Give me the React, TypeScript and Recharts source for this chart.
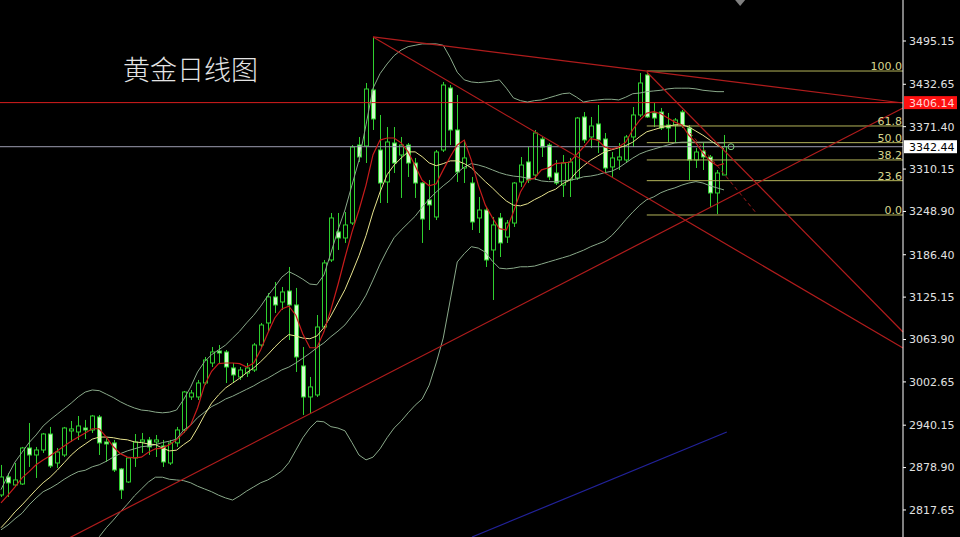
import React from 'react';
import { ComposedChart, Bar, Line, XAxis, YAxis, ReferenceLine, ReferenceDot } from 'recharts';

// daily gold candles
const opens = [
  2839.3, 2865.3, 2853.8, 2855.2, 2907.2, 2897.1, 2904.3, 2927.4, 2885.5, 2897.1,
  2931.8, 2930.3, 2936.1, 2933.2, 2952.0, 2915.9, 2914.5, 2876.9, 2858.1, 2892.8,
  2915.9, 2918.8, 2915.9, 2910.1, 2885.5, 2914.5, 2933.2, 2980.9, 2980.9, 3001.1,
  3030.0, 3047.3, 3045.9, 3022.8, 3009.8, 3015.6, 3019.9, 3056.0, 3087.8, 3125.4,
  3118.1, 3134.0, 3113.8, 3025.7, 2980.9, 2983.8, 3082.0, 3178.8, 3219.3, 3210.6,
  3232.2, 3344.9, 3343.5, 3424.4, 3337.7, 3291.5, 3347.8, 3330.5, 3344.9, 3318.9,
  3290.0, 3265.5, 3240.9, 3337.7, 3427.3, 3366.6, 3311.7, 3290.0, 3239.5, 3251.0,
  3193.3, 3239.5, 3212.0, 3232.2, 3291.5, 3320.4, 3301.6, 3353.6, 3344.9, 3304.5,
  3287.1, 3294.4, 3297.3, 3385.4, 3356.5, 3375.3, 3353.6, 3313.2, 3323.3, 3323.3,
  3356.5, 3388.3, 3446.1, 3391.2, 3392.6, 3373.8, 3373.8, 3392.6, 3369.5, 3323.3,
  3336.3, 3327.6, 3275.6, 3301.6,
];
const highs = [
  2882.7, 2871.1, 2885.5, 2908.7, 2943.3, 2908.7, 2928.9, 2937.6, 2907.2, 2937.6,
  2946.2, 2953.4, 2947.7, 2954.9, 2954.9, 2923.1, 2918.8, 2878.3, 2894.2, 2927.4,
  2928.9, 2923.1, 2926.0, 2918.8, 2918.8, 2937.6, 2989.6, 2991.0, 3005.5, 3038.7,
  3053.1, 3056.0, 3048.8, 3030.0, 3024.2, 3030.0, 3058.9, 3087.8, 3131.1, 3147.0,
  3139.8, 3168.7, 3138.4, 3053.1, 3009.8, 3099.3, 3178.8, 3246.7, 3246.7, 3248.1,
  3344.9, 3356.5, 3434.5, 3501.0, 3388.3, 3370.9, 3370.9, 3356.5, 3347.8, 3326.2,
  3291.5, 3294.4, 3337.7, 3436.0, 3431.6, 3417.2, 3352.2, 3298.7, 3269.8, 3255.4,
  3240.9, 3246.7, 3236.5, 3291.5, 3327.6, 3342.0, 3366.6, 3356.5, 3347.8, 3323.3,
  3330.5, 3326.2, 3385.4, 3392.6, 3385.4, 3402.7, 3362.3, 3334.8, 3347.8, 3359.4,
  3399.8, 3449.0, 3450.4, 3405.6, 3398.4, 3391.2, 3383.9, 3395.5, 3373.8, 3340.6,
  3347.8, 3330.5, 3308.8, 3359.4,
];
const lows = [
  2836.4, 2836.4, 2850.9, 2853.8, 2879.8, 2863.9, 2900.0, 2878.3, 2878.3, 2894.2,
  2915.9, 2918.8, 2920.2, 2928.9, 2897.1, 2887.0, 2872.5, 2833.5, 2856.7, 2879.8,
  2900.0, 2897.1, 2894.2, 2879.8, 2882.7, 2908.7, 2928.9, 2976.6, 2976.6, 2998.2,
  3024.2, 3030.0, 3001.1, 3001.1, 3005.5, 3009.8, 3017.0, 3053.1, 3074.8, 3102.2,
  3106.6, 3063.2, 3017.0, 2954.9, 2957.8, 2980.9, 3077.7, 3175.9, 3193.3, 3203.4,
  3229.4, 3320.4, 3318.9, 3366.6, 3261.1, 3261.1, 3304.5, 3268.4, 3298.7, 3268.4,
  3203.4, 3222.1, 3236.5, 3334.8, 3344.9, 3291.5, 3290.0, 3222.1, 3217.8, 3168.7,
  3121.0, 3183.1, 3203.4, 3226.5, 3284.3, 3290.0, 3294.4, 3327.6, 3294.4, 3287.1,
  3269.8, 3269.8, 3294.4, 3347.8, 3340.6, 3333.4, 3304.5, 3297.3, 3308.8, 3318.9,
  3342.0, 3385.4, 3383.9, 3370.9, 3366.6, 3349.3, 3347.8, 3369.5, 3294.4, 3311.7,
  3308.8, 3255.4, 3245.2, 3301.6,
];
const closes = [
  2865.3, 2856.7, 2861.0, 2907.2, 2897.1, 2904.3, 2927.4, 2881.2, 2901.4, 2936.1,
  2934.7, 2939.0, 2933.2, 2953.4, 2914.5, 2913.0, 2875.4, 2846.5, 2892.8, 2915.9,
  2918.8, 2908.7, 2918.8, 2887.0, 2914.5, 2933.2, 2988.1, 2986.7, 3001.1, 3034.3,
  3045.9, 3044.4, 3024.2, 3012.7, 3019.9, 3022.8, 3056.0, 3084.9, 3125.4, 3113.8,
  3132.6, 3113.8, 3038.7, 2980.9, 2995.4, 3082.0, 3174.5, 3239.5, 3210.6, 3229.4,
  3342.0, 3327.6, 3425.8, 3382.5, 3290.0, 3349.3, 3318.9, 3344.9, 3318.9, 3290.0,
  3238.0, 3258.3, 3334.8, 3431.6, 3366.6, 3305.9, 3326.2, 3233.7, 3251.0, 3178.8,
  3229.4, 3203.4, 3232.2, 3290.0, 3316.0, 3294.4, 3362.3, 3342.0, 3298.7, 3290.0,
  3318.9, 3320.4, 3383.9, 3352.2, 3372.4, 3352.2, 3311.7, 3326.2, 3327.6, 3356.5,
  3388.3, 3434.5, 3385.4, 3383.9, 3369.5, 3369.5, 3381.0, 3373.8, 3323.3, 3334.8,
  3327.6, 3275.6, 3304.5, 3342.4,
];

// moving averages and bollinger bands
const maRed = [
  2828, 2839, 2851, 2864, 2873, 2883, 2890, 2896, 2903, 2910,
  2917, 2923, 2929, 2935, 2935, 2923, 2909, 2899, 2894, 2893,
  2894, 2901, 2906, 2907, 2912, 2919, 2929, 2940, 2965, 2998,
  3018, 3029, 3030, 3030, 3029, 3024, 3030, 3049, 3073, 3095,
  3108, 3112, 3099, 3072, 3052, 3052, 3075, 3107, 3143, 3182,
  3219, 3251, 3287, 3331, 3352, 3355, 3355, 3348, 3335, 3315,
  3294, 3286, 3289, 3309, 3328, 3345, 3352, 3323, 3287, 3258,
  3240, 3224, 3222, 3248, 3277, 3294, 3297, 3309, 3312, 3318,
  3319, 3320, 3331, 3342, 3354, 3352, 3342, 3339, 3342, 3349,
  3367, 3381, 3391, 3393, 3390, 3384, 3378, 3374, 3359, 3348,
  3333, 3322, 3315, 3318,
];
const maYellow = [
  2792, 2803, 2815, 2825, 2836, 2847, 2857, 2865, 2875, 2886,
  2897, 2906, 2913, 2920, 2923, 2923, 2922, 2920, 2919, 2916,
  2915, 2913, 2912, 2907, 2903, 2904, 2912, 2919, 2936, 2955,
  2972, 2984, 2994, 3001, 3008, 3016, 3023, 3032, 3042, 3053,
  3063, 3071, 3069, 3066, 3065, 3069, 3081, 3098, 3117, 3136,
  3160, 3185, 3214, 3248, 3277, 3302, 3316, 3326, 3335, 3335,
  3328, 3319, 3315, 3318, 3322, 3322, 3318, 3312, 3302, 3292,
  3283, 3273, 3264, 3258, 3257, 3260, 3266, 3271, 3277, 3281,
  3289, 3294, 3306, 3315, 3323, 3329, 3335, 3338, 3341, 3344,
  3349, 3357, 3364, 3367, 3370, 3372, 3374, 3374, 3371, 3365,
  3359, 3352, 3345, 3339,
];
const bbUpper = [
  2847, 2868, 2887, 2901, 2915, 2926, 2939, 2948, 2956, 2964,
  2972, 2981, 2988, 2991, 2990, 2985, 2980, 2974, 2969, 2965,
  2962, 2961, 2959, 2958, 2959, 2962, 2977, 2995, 3017, 3032,
  3042, 3049, 3056, 3066, 3076, 3088, 3099, 3112, 3127, 3140,
  3154, 3162, 3157, 3151, 3144, 3143, 3157, 3189, 3222, 3251,
  3287, 3323, 3374, 3427, 3448, 3462, 3474, 3482, 3487, 3489,
  3491, 3491, 3491, 3489, 3471, 3450, 3439, 3436, 3435, 3436,
  3437, 3439, 3427, 3413, 3409, 3407, 3409, 3410, 3413, 3416,
  3419, 3420, 3414, 3407, 3409, 3410, 3411, 3411, 3410, 3414,
  3419, 3420, 3422, 3423, 3424, 3426, 3427, 3427, 3427, 3426,
  3424, 3423, 3422, 3422,
];
const bbMid = [
  2789, 2796, 2805, 2813, 2825, 2835, 2844, 2849, 2855, 2862,
  2868, 2873, 2875, 2880, 2883, 2888, 2894, 2899, 2903, 2906,
  2909, 2910, 2912, 2915, 2917, 2920, 2933, 2940, 2951, 2959,
  2967, 2972, 2978, 2982, 2987, 2992, 2997, 3003, 3008, 3014,
  3020, 3024, 3030, 3037, 3044, 3052, 3059, 3068, 3076, 3085,
  3098, 3111, 3128, 3150, 3173, 3193, 3211, 3222, 3232, 3242,
  3255, 3267, 3277, 3286, 3294, 3305, 3313, 3318, 3316, 3313,
  3309, 3305, 3302, 3300, 3299, 3297, 3296, 3293, 3292, 3292,
  3293, 3294, 3296, 3299, 3300, 3302, 3305, 3307, 3312, 3319,
  3326, 3332, 3336, 3339, 3342, 3345, 3348, 3349, 3349, 3349,
  3349, 3349, 3348, 3348,
];
const bbLower = [
  null, null, null, null, null, null, null, null, null, null,
  2731, 2745, 2757, 2767, 2779, 2792, 2803, 2815, 2826, 2838,
  2848, 2858, 2865, 2865, 2862, 2861, 2860, 2857, 2852, 2848,
  2844, 2839, 2835, 2832, 2838, 2845, 2851, 2857, 2861, 2867,
  2874, 2886, 2904, 2922, 2936, 2946, 2945, 2938, 2936, 2932,
  2915, 2897, 2890, 2894, 2906, 2922, 2936, 2946, 2958, 2969,
  2978, 2998, 3030, 3066, 3121, 3176, 3188, 3198, 3196, 3190,
  3177, 3167, 3166, 3167, 3169, 3169, 3170, 3173, 3176, 3179,
  3182, 3185, 3189, 3193, 3198, 3202, 3206, 3214, 3225, 3237,
  3248, 3258, 3266, 3270, 3276, 3280, 3283, 3287, 3290, 3292,
  3290, 3286, 3283, 3280,
];

const priceTicks = [2817.65, 2878.9, 2940.15, 3002.65, 3063.9, 3125.15, 3186.4, 3248.9, 3310.15, 3371.4, 3432.65, 3495.15];
const fibLevels = [
  { name: '100.0', price: 3451.8 },
  { name: '61.8', price: 3372.4 },
  { name: '50.0', price: 3348.3 },
  { name: '38.2', price: 3323.3 },
  { name: '23.6', price: 3293.4 },
  { name: '0.0', price: 3243.8 },
];
// trendlines: [fromIndex, fromPrice, toIndex, toPrice]
const trendLines = [
  [53, 3501.0, 128.5, 3405.6],
  [53, 3501.0, 128.5, 3051.7],
  [92, 3450.4, 128.5, 3074.8],
  [8, 2768.3, 128.5, 3398.4],
];
const dashedLine = [98.2, 3362.3, 107.7, 3245.2];
const blueLine = [67.1, 2778.6, 103.4, 2930.3];
const resistance = 3406.14;
const lastPrice = 3342.44;

const SLOTS = 129;
const GREEN = '#2fd02f';

const data = Array.from({ length: SLOTS }, (_, i) => ({
  i,
  open: opens[i],
  high: highs[i],
  low: lows[i],
  close: closes[i],
  maRed: maRed[i],
  maYellow: maYellow[i],
  bbUpper: bbUpper[i],
  bbMid: bbMid[i],
  bbLower: bbLower[i],
}));

const Candle = (props: any) => {
  const { x, y, width, height, payload } = props;
  if (!payload || payload.open == null || height == null || isNaN(y)) return null;
  const { open, high, low, close } = payload;
  const cx = Math.round(x + width / 2) + 0.5;
  const py = (v: number) => y + ((high - v) / (high - low || 1)) * height;
  const top = py(Math.max(open, close));
  const bot = py(Math.min(open, close));
  const bull = close >= open;
  return (
    <g>
      <line x1={cx} x2={cx} y1={y} y2={y + height} stroke={GREEN} strokeWidth={1} />
      <rect
        x={cx - 2}
        y={top}
        width={4}
        height={Math.max(bot - top, 1)}
        fill={bull ? '#000000' : '#d2fbcc'}
        stroke={GREEN}
        strokeWidth={1}
      />
    </g>
  );
};

const Badge = (props: any) => {
  const { viewBox, text, bg, color } = props;
  if (!viewBox) return null;
  const x = viewBox.x + viewBox.width;
  const y = viewBox.y;
  return (
    <g>
      <rect x={x + 1} y={y - 6.5} width={53} height={13} fill={bg} />
      <text x={x + 6} y={y + 4.5} fill={color} fontSize={11} fontFamily="DejaVu Sans">
        {text}
      </text>
    </g>
  );
};

const lineProps = { dot: false, activeDot: false, isAnimationActive: false, legendType: 'none' as const };

const App: React.FC = () => {
  return (
    <div style={{ position: 'absolute', left: 0, top: 0, width: 960, height: 537, background: '#000', overflow: 'hidden' }}>
      <ComposedChart width={960} height={537} data={data} margin={{ top: 0, right: 0, bottom: 0, left: -2.5 }}>
        <XAxis dataKey="i" hide />
        <XAxis xAxisId="n" dataKey="i" type="number" domain={[-0.5, 128.5]} allowDataOverflow hide />
        <YAxis
          orientation="right"
          width={57}
          domain={[2778.6, 3554.4]}
          allowDataOverflow
          ticks={priceTicks}
          tickFormatter={(v: number) => v.toFixed(2)}
          axisLine={{ stroke: '#ffffff' }}
          tickLine={{ stroke: '#ffffff' }}
          tickSize={3}
          tickMargin={3}
          tick={{ fill: '#e2e2e2', fontSize: 11, fontFamily: 'DejaVu Sans' }}
        />

        <ReferenceLine y={resistance} stroke="#d81e1e" strokeWidth={1}
          label={(p: any) => <Badge {...p} text="3406.14" bg="#ff1010" color="#ffd6d6" />} />
        <ReferenceLine y={lastPrice} stroke="#9c9cb0" strokeWidth={1}
          label={(p: any) => <Badge {...p} text="3342.44" bg="#ffffff" color="#000000" />} />

        {fibLevels.map((f) => (
          <ReferenceLine
            key={f.name}
            xAxisId="n"
            segment={[{ x: 92, y: f.price }, { x: 128.5, y: f.price }]}
            stroke="#b4b45a"
            strokeWidth={1}
            ifOverflow="visible"
            label={{ value: f.name, position: 'insideBottomRight', offset: 1, fill: '#d6d68e', fontSize: 11, fontFamily: 'DejaVu Sans' }}
          />
        ))}

        <Bar dataKey={(d: any) => (d.low != null ? [d.low, d.high] : null)} shape={<Candle />} isAnimationActive={false} legendType="none" />

        <Line dataKey="bbUpper" stroke="#8aa98a" strokeWidth={1} {...lineProps} />
        <Line dataKey="bbMid" stroke="#8aa98a" strokeWidth={1} {...lineProps} />
        <Line dataKey="bbLower" stroke="#8aa98a" strokeWidth={1} {...lineProps} />
        <Line dataKey="maYellow" stroke="#e8e48e" strokeWidth={1} {...lineProps} />
        <Line dataKey="maRed" stroke="#c81c1c" strokeWidth={1.2} {...lineProps} />

        {trendLines.map((t, k) => (
          <ReferenceLine
            key={`t${k}`}
            xAxisId="n"
            segment={[{ x: t[0], y: t[1] }, { x: t[2], y: t[3] }]}
            stroke="#b01c1c"
            strokeWidth={1.2}
            ifOverflow="visible"
          />
        ))}
        <ReferenceLine
          xAxisId="n"
          segment={[{ x: dashedLine[0], y: dashedLine[1] }, { x: dashedLine[2], y: dashedLine[3] }]}
          stroke="#a01c1c"
          strokeDasharray="4 3"
          ifOverflow="visible"
        />
        <ReferenceLine
          xAxisId="n"
          segment={[{ x: blueLine[0], y: blueLine[1] }, { x: blueLine[2], y: blueLine[3] }]}
          stroke="#22229a"
          strokeWidth={1.2}
          ifOverflow="visible"
        />
        <ReferenceDot xAxisId="n" x={104} y={lastPrice} r={3} fill="none" stroke="#7ed07e" ifOverflow="visible" />
        <ReferenceDot
          xAxisId="n"
          x={105.3}
          y={3554.4}
          ifOverflow="visible"
          shape={(p: any) => (
            <polygon points={`${p.cx - 5},${p.cy} ${p.cx + 5},${p.cy} ${p.cx},${p.cy + 6}`} fill="#808080" />
          )}
        />
      </ComposedChart>
      <svg width={960} height={537} style={{ position: 'absolute', left: 0, top: 0, pointerEvents: 'none' }}>
        <text x={123} y={80} fill="#e4e4e4" fontSize={27} fontFamily="Noto Sans CJK SC" fontWeight={300}>
          黄金日线图
        </text>
      </svg>
    </div>
  );
};

export default App;
